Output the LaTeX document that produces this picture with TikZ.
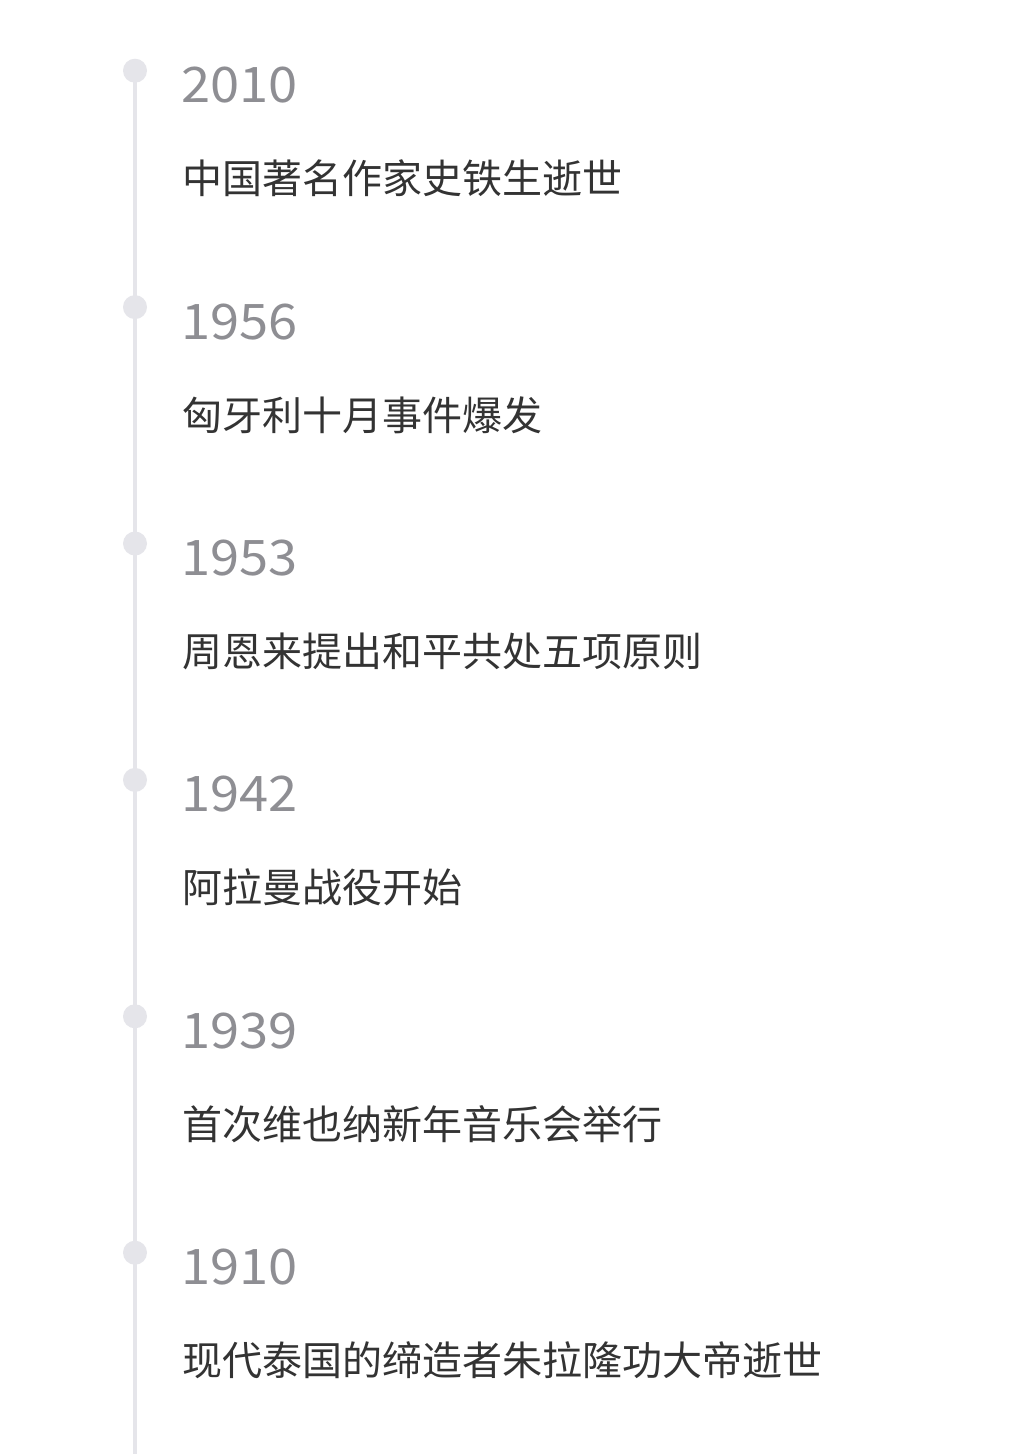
\documentclass[tikz,border=0pt]{standalone}
\usepackage{fontspec}
\setmainfont{Noto Sans CJK SC}
\newfontfamily\yearfont{Noto Sans CJK SC}[FakeStretch=1.07]
\usepackage{xcolor}
\usetikzlibrary{positioning}
\definecolor{railgray}{RGB}{229,229,234}
\definecolor{yeargray}{RGB}{142,142,147}
\definecolor{eventink}{RGB}{51,51,51}

\begin{document}
\begin{tikzpicture}[x=1pt, y=-1pt,
  every node/.style={inner sep=0pt, anchor=base west},
  year lbl/.style={yeargray, font=\yearfont\fontsize{49}{56}\selectfont},
  event lbl/.style={eventink, font=\fontsize{40}{48}\selectfont},
  rail dot/.style={circle, fill=railgray, minimum size=24pt, anchor=center},
]

%% Page frame
\useasboundingbox[fill=white] (0,0) rectangle (1034,1454);

%% Vertical rail (drawn first, dots sit on it)
\coordinate (rail top) at (135, 70.7);
\coordinate (rail end) at (135, 1460);
\draw[railgray, line width=4pt] (rail top) -- (rail end);

%% ---- Rail dots ----
\node[rail dot] (d1) at (rail top) {};
\node[rail dot] (d2) at (135, 307.1) {};
\node[rail dot] (d3) at (135, 543.5) {};
\node[rail dot] (d4) at (135, 779.9) {};
\node[rail dot] (d5) at (135, 1016.3) {};
\node[rail dot] (d6) at (135, 1252.7) {};

%% ---- Entries ----
% 2010
\node[year lbl] (y1) at (181, 70.7+32) {2010};
\node[event lbl] (e1) at (182, 70.7+123) {中国著名作家史铁生逝世};

% 1956
\node[year lbl] (y2) at (181, 307.1+32) {1956};
\node[event lbl] (e2) at (182, 307.1+123) {匈牙利十月事件爆发};

% 1953
\node[year lbl] (y3) at (181, 543.5+32) {1953};
\node[event lbl] (e3) at (182, 543.5+123) {周恩来提出和平共处五项原则};

% 1942
\node[year lbl] (y4) at (181, 779.9+32) {1942};
\node[event lbl] (e4) at (182, 779.9+123) {阿拉曼战役开始};

% 1939
\node[year lbl] (y5) at (181, 1016.3+32) {1939};
\node[event lbl] (e5) at (182, 1016.3+123) {首次维也纳新年音乐会举行};

% 1910
\node[year lbl] (y6) at (181, 1252.7+32) {1910};
\node[event lbl] (e6) at (182, 1252.7+123) {现代泰国的缔造者朱拉隆功大帝逝世};

\end{tikzpicture}
\end{document}
